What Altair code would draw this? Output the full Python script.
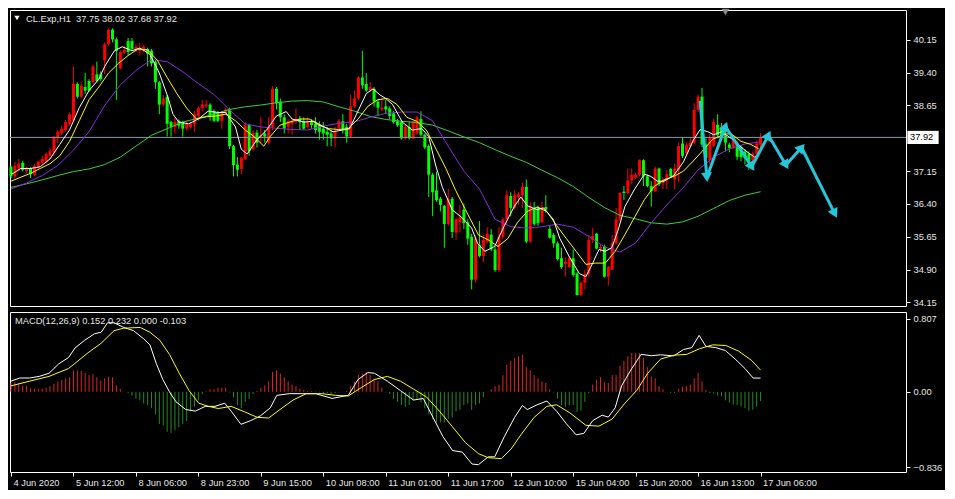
import math
import altair as alt
import pandas as pd

# ---------------- data ----------------
opens = [37.25, 37.03, 37.21, 37.34, 37.15, 37.21, 37.07, 37.25, 37.34, 37.36,
         37.50, 37.58, 37.90, 38.01, 38.09, 38.23, 38.30, 39.14, 38.85, 39.07,
         39.21, 39.18, 39.36, 39.36, 39.68, 40.05, 40.38, 40.16, 39.50, 39.85,
         40.12, 40.12, 39.90, 39.90, 39.90, 39.94, 39.90, 39.65, 39.18, 38.67,
         38.85, 38.27, 38.16, 38.30, 38.27, 38.12, 38.16, 38.23, 38.41, 38.59,
         38.63, 38.67, 38.52, 38.48, 38.30, 38.48, 38.56, 37.72, 37.30, 37.20,
         37.43, 38.20, 37.65, 38.03, 37.93, 38.01, 37.80, 38.16, 39.03, 38.74,
         38.38, 38.16, 38.23, 38.27, 38.34, 38.29, 38.16, 38.27, 38.23, 38.20,
         38.12, 38.05, 38.01, 37.90, 38.12, 38.29, 38.16, 37.94, 38.63, 38.81,
         39.29, 39.14, 38.99, 39.03, 38.74, 38.56, 38.63, 38.58, 38.47, 38.29,
         38.27, 37.90, 38.16, 37.90, 38.01, 38.34, 37.98, 37.72, 37.07, 36.71,
         36.52, 36.36, 35.94, 36.52, 35.75, 35.98, 36.27, 35.98, 35.65, 34.67,
         35.47, 35.21, 35.54, 35.70, 35.36, 34.89, 35.65, 36.05, 36.58, 36.31,
         36.56, 36.60, 36.79, 35.54, 36.31, 36.33, 35.98, 36.33, 35.83, 35.69,
         35.50, 35.16, 35.03, 34.96, 35.16, 34.81, 34.32, 34.60, 34.81, 35.58,
         35.72, 35.38, 35.43, 34.74, 34.90, 35.50, 36.05, 36.68, 36.65, 36.94,
         37.00, 37.07, 37.40, 37.03, 36.81, 36.69, 37.21, 36.87, 36.94, 37.20,
         36.96, 37.18, 37.78, 37.56, 37.72, 37.80, 38.55, 38.85, 37.76, 37.40,
         37.73, 38.21, 38.15, 37.97, 37.76, 37.69, 37.79, 37.70, 37.60, 37.55,
         37.40, 37.55, 37.75]
highs = [37.28, 37.36, 37.43, 37.39, 37.25, 37.24, 37.32, 37.39, 37.50, 37.58,
         37.69, 37.94, 38.09, 38.19, 38.32, 38.49, 39.54, 39.18, 39.18, 39.39,
         39.25, 39.58, 39.65, 39.43, 40.09, 40.41, 40.41, 40.20, 39.90, 40.01,
         40.19, 40.19, 40.05, 40.08, 40.03, 39.97, 39.94, 39.68, 39.21, 38.89,
         38.89, 38.30, 38.38, 38.33, 38.30, 38.30, 38.27, 38.52, 38.63, 38.78,
         38.78, 38.70, 38.56, 38.52, 38.52, 38.59, 38.60, 37.75, 37.47, 37.48,
         38.27, 38.23, 38.08, 38.09, 38.38, 38.09, 38.38, 39.09, 39.07, 38.81,
         38.45, 38.34, 38.34, 38.58, 38.41, 38.38, 38.38, 38.34, 38.38, 38.29,
         38.27, 38.16, 38.09, 38.16, 38.34, 38.45, 38.23, 38.89, 38.99, 39.32,
         39.90, 39.39, 39.18, 39.07, 38.78, 38.81, 38.78, 38.63, 38.52, 38.34,
         38.30, 38.20, 38.27, 38.30, 38.41, 38.52, 38.01, 37.76, 37.11, 37.14,
         36.56, 36.38, 36.74, 36.56, 36.09, 36.38, 36.41, 36.05, 35.72, 35.69,
         36.01, 35.69, 35.87, 35.83, 35.43, 35.87, 36.09, 36.71, 36.67, 36.71,
         36.67, 36.89, 36.96, 36.45, 36.45, 36.36, 36.45, 36.60, 35.90, 35.74,
         35.54, 35.40, 35.18, 35.21, 35.36, 34.85, 34.63, 34.89, 35.69, 35.85,
         35.74, 35.47, 35.47, 34.99, 35.69, 36.31, 36.67, 36.81, 37.21, 37.21,
         37.11, 37.42, 37.42, 37.07, 36.92, 37.25, 37.23, 37.00, 37.18, 37.23,
         37.32, 37.80, 37.92, 37.80, 37.90, 38.70, 38.90, 39.05, 37.90, 38.00,
         38.35, 38.45, 38.25, 38.10, 37.80, 37.95, 37.83, 37.74, 37.65, 37.60,
         37.60, 37.85, 38.02]
lows = [36.99, 36.99, 37.14, 37.14, 37.10, 36.99, 37.03, 37.21, 37.30, 37.32,
        37.43, 37.50, 37.79, 37.98, 38.05, 38.19, 38.30, 38.81, 38.81, 38.92,
        38.96, 39.14, 39.18, 39.21, 39.36, 40.02, 40.09, 38.78, 39.47, 39.83,
        39.79, 39.90, 39.87, 39.79, 39.86, 39.54, 39.54, 39.03, 38.45, 38.63,
        37.94, 37.94, 38.01, 38.12, 37.94, 38.08, 38.12, 38.05, 38.30, 38.52,
        38.60, 38.30, 38.27, 38.27, 38.12, 38.45, 37.65, 37.03, 37.03, 37.08,
        37.40, 37.50, 37.60, 37.69, 37.80, 37.80, 37.76, 38.09, 38.56, 38.27,
        38.01, 38.01, 37.98, 38.23, 38.09, 38.09, 38.12, 38.12, 38.01, 37.87,
        37.87, 37.72, 37.72, 37.69, 38.09, 38.01, 37.80, 37.92, 38.59, 38.78,
        39.03, 38.96, 38.96, 38.63, 38.41, 38.52, 38.45, 38.34, 38.23, 38.16,
        37.87, 37.87, 37.87, 37.88, 37.98, 37.94, 37.65, 36.56, 36.12, 36.45,
        36.23, 35.40, 35.90, 35.62, 35.58, 35.76, 35.83, 35.47, 34.45, 34.60,
        35.18, 35.07, 35.50, 35.32, 34.85, 34.85, 35.61, 35.94, 36.12, 36.27,
        36.38, 36.31, 35.51, 35.51, 35.90, 35.90, 35.96, 36.20, 35.61, 35.40,
        35.11, 34.92, 34.74, 34.94, 34.74, 34.31, 34.30, 34.45, 34.74, 35.51,
        35.36, 35.30, 34.72, 34.54, 34.89, 35.47, 36.01, 36.49, 36.63, 36.85,
        36.96, 37.03, 36.81, 36.78, 36.34, 36.67, 36.81, 36.74, 36.74, 36.99,
        36.74, 36.90, 37.45, 37.50, 37.68, 37.76, 38.50, 37.70, 37.20, 37.30,
        37.70, 37.90, 37.85, 37.60, 37.58, 37.65, 37.40, 37.38, 37.30, 37.18,
        37.30, 37.45, 37.68]
closes = [37.03, 37.27, 37.32, 37.18, 37.23, 37.08, 37.27, 37.37, 37.43, 37.54,
          37.61, 37.94, 38.05, 38.12, 38.27, 38.45, 39.14, 38.85, 39.10, 38.99,
          38.99, 39.54, 39.21, 39.25, 40.05, 40.38, 40.16, 39.90, 39.87, 39.92,
          39.87, 39.94, 39.99, 39.97, 39.99, 39.83, 39.61, 39.18, 38.67, 38.81,
          38.23, 38.16, 38.27, 38.19, 38.12, 38.23, 38.23, 38.45, 38.59, 38.67,
          38.67, 38.41, 38.30, 38.30, 38.48, 38.56, 37.72, 37.29, 37.18, 37.45,
          38.20, 37.61, 38.03, 37.80, 37.97, 37.94, 38.16, 39.03, 38.70, 38.38,
          38.12, 38.29, 38.30, 38.34, 38.27, 38.12, 38.27, 38.20, 38.09, 38.05,
          38.01, 37.98, 37.90, 38.05, 38.30, 38.09, 37.94, 38.63, 38.81, 39.29,
          39.11, 38.99, 39.07, 38.74, 38.60, 38.60, 38.56, 38.41, 38.27, 38.20,
          37.90, 38.17, 37.90, 38.29, 38.38, 37.98, 37.69, 37.07, 36.67, 36.49,
          36.38, 35.94, 36.52, 35.76, 36.05, 36.09, 35.96, 35.61, 34.67, 35.61,
          35.21, 35.58, 35.72, 35.36, 34.89, 35.65, 36.05, 36.60, 36.31, 36.60,
          36.62, 36.79, 35.54, 36.36, 35.94, 35.96, 36.33, 36.27, 35.63, 35.50,
          35.14, 34.96, 35.08, 35.16, 34.78, 34.32, 34.60, 34.81, 35.58, 35.67,
          35.38, 35.42, 34.74, 34.96, 35.50, 36.05, 36.65, 36.65, 36.94, 37.07,
          37.07, 37.40, 37.03, 36.81, 36.69, 37.21, 36.85, 36.96, 37.08, 37.03,
          37.21, 37.72, 37.50, 37.74, 37.80, 38.55, 38.85, 37.76, 37.45, 37.92,
          38.27, 37.97, 37.95, 37.80, 37.68, 37.87, 37.48, 37.47, 37.45, 37.38,
          37.55, 37.78, 37.92]

# moving averages (bar index, value)
white_i = [0, 2.5, 5, 7.5, 10, 12.5, 15, 17.5, 20, 22.5, 24, 26.5, 28.5, 31, 33, 35.5, 38, 40,
           41.5, 43, 45.5, 48, 50.5, 53, 55, 57.5, 59, 60.5, 63, 65.5, 68, 70.5, 72, 75, 77.5,
           80, 82.5, 85, 86.75, 88.5, 91, 92.75, 94.5, 96, 97.75, 100.25, 102.75, 105.25, 107,
           108.75, 110.5, 113, 115.5, 118, 119.5, 121.4, 123.9, 126.4, 128.9, 130.6, 132.25,
           134.75, 136.4, 138.9, 140.6, 143.1, 145.6, 147.25, 148.9, 150.6, 152.25, 153.9, 155.6,
           157.25, 159.75, 162.25, 163.9, 165.6, 167.25, 169.75, 172.25, 174.75, 176.5, 178.5,
           180, 182, 184.75, 187, 189, 190.5, 192]
white_v = [37.07, 37.21, 37.21, 37.25, 37.43, 37.76, 38.09, 38.60, 38.99, 39.25, 39.54, 39.90,
           39.99, 39.90, 39.96, 39.83, 39.39, 38.89, 38.45, 38.27, 38.23, 38.34, 38.52, 38.49,
           38.49, 38.16, 37.65, 37.54, 37.87, 38.09, 38.41, 38.51, 38.34, 38.27, 38.29, 38.17,
           38.05, 38.09, 38.12, 38.45, 38.92, 39.03, 38.89, 38.81, 38.67, 38.27, 38.09, 38.12,
           37.94, 37.29, 36.78, 36.27, 36.09, 35.85, 35.50, 35.32, 35.43, 35.91, 36.34, 36.56,
           36.36, 36.27, 36.31, 36.05, 35.61, 35.18, 34.81, 34.74, 35.03, 35.36, 35.32, 35.40,
           35.83, 36.34, 36.74, 37.08, 37.03, 36.92, 36.92, 37.05, 37.36, 37.85, 38.10, 38.05,
           37.98, 38.05, 37.88, 37.70, 37.56, 37.47, 37.60]
yellow_i = [0, 5, 7.5, 10, 12.5, 15, 17.5, 20, 22.5, 25, 27.5, 30, 32.5, 35, 37.5, 40, 42.5, 45,
            47.5, 50, 52.5, 55, 57.5, 60, 62.25, 64.75, 66.4, 68.9, 71.4, 73.9, 76.4, 78.9, 81.4,
            83.9, 86.4, 88.9, 91.4, 93.9, 96.4, 98.9, 101.4, 103.9, 106.4, 108.9, 111.4, 113.9,
            116.4, 119.75, 122.25, 124.75, 127.25, 129.75, 132.25, 134.75, 137.25, 139.75, 142.25,
            144.75, 147.25, 149.75, 152.25, 154.75, 157.25, 159.75, 162.25, 164.75, 167.25,
            169.75, 172.25, 174.75, 177, 179.75, 183, 184.5, 187, 189.5, 191.5]
yellow_v = [36.92, 37.10, 37.21, 37.32, 37.50, 37.83, 38.30, 38.78, 39.07, 39.39, 39.61, 39.79,
            39.94, 39.92, 39.68, 39.29, 38.92, 38.59, 38.34, 38.39, 38.41, 38.45, 38.30, 38.09,
            37.94, 37.72, 37.94, 38.20, 38.27, 38.34, 38.34, 38.20, 38.12, 38.10, 38.12, 38.34,
            38.63, 38.78, 38.81, 38.67, 38.38, 38.29, 38.09, 37.65, 37.21, 36.71, 36.27, 35.69,
            35.58, 35.43, 35.61, 35.98, 36.23, 36.33, 36.23, 35.91, 35.61, 35.32, 35.02, 35.05,
            35.05, 35.32, 35.70, 36.10, 36.50, 36.80, 36.95, 37.03, 37.15, 37.38, 37.60, 37.88,
            38.00, 38.00, 37.83, 37.76, 37.66]
purple_i = list(range(0, 193, 4))
purple_v = [36.74, 36.88, 37.05, 37.28, 37.63, 38.05, 38.65, 39.12, 39.45, 39.70, 39.65, 39.42,
            39.15, 38.90, 38.55, 38.23, 38.16, 38.13, 38.10, 38.09, 38.18, 38.24, 38.28, 38.38,
            38.47, 38.50, 38.50, 38.30, 37.72, 37.15, 36.74, 36.05, 35.88, 35.85, 35.88, 35.94,
            35.87, 35.66, 35.42, 35.30, 35.51, 35.97, 36.38, 36.75, 37.18, 37.47, 37.66, 37.77,
            37.82]
green_i = list(range(0, 193, 4))
green_v = [36.78, 36.86, 36.95, 37.05, 37.14, 37.20, 37.30, 37.47, 37.72, 37.97, 38.12, 38.27,
           38.36, 38.45, 38.56, 38.62, 38.66, 38.71, 38.75, 38.76, 38.73, 38.62, 38.52, 38.40,
           38.33, 38.29, 38.26, 38.20, 38.07, 37.93, 37.80, 37.64, 37.49, 37.35, 37.17, 37.00,
           36.80, 36.55, 36.32, 36.14, 36.06, 35.97, 35.94, 35.99, 36.12, 36.30, 36.48, 36.60,
           36.68]

# MACD main line, signal line and histogram
macd_i = [0, 2.25, 4.75, 7.25, 9.75, 12.25, 14.75, 16.4, 18.9, 21.4, 23.1, 24.75, 26.4, 28.9,
          31.4, 33.9, 35.6, 37.25, 38.9, 40.6, 42.25, 44.75, 47.25, 49.75, 52.25, 54.75, 56.4,
          58.9, 61.4, 63.9, 66.4, 68.1, 71.4, 74.75, 78.1, 82.25, 86.4, 88.9, 91.4, 93.1, 96.4,
          99.75, 103.1, 105.6, 108.1, 110.6, 113.1, 115.6, 118.1, 119.75, 122.25, 123.9, 126.4,
          129, 131, 132.25, 134.75, 137.25, 139.75, 142.25, 144.75, 146.75, 149, 151.4, 153,
          154.75, 156.4, 159, 161.4, 164, 166.4, 169.75, 172.25, 174.4, 176.25, 178, 180.5, 183,
          185.5, 188, 190.1, 192]
macd_v = [0.118, 0.153, 0.153, 0.171, 0.206, 0.310, 0.380, 0.485, 0.572, 0.643, 0.660, 0.765,
          0.765, 0.713, 0.677, 0.590, 0.520, 0.310, 0.136, 0.000, -0.109, -0.196, -0.214, -0.161,
          -0.161, -0.126, -0.214, -0.360, -0.319, -0.266, -0.178, -0.039, -0.020, -0.021, -0.021,
          -0.073, -0.039, 0.136, 0.213, 0.206, 0.118, 0.014, -0.091, -0.074, -0.283, -0.493,
          -0.650, -0.668, -0.800, -0.807, -0.720, -0.720, -0.493, -0.283, -0.151, -0.196,
          -0.144, -0.102, -0.214, -0.353, -0.476, -0.460, -0.319, -0.259, -0.280, -0.178, 0.066,
          0.258, 0.415, 0.400, 0.410, 0.398, 0.468, 0.490, 0.625, 0.503, 0.490, 0.457, 0.363,
          0.258, 0.153, 0.152]
signal_i = [0, 4.75, 9.75, 14.75, 19.75, 23.1, 26.4, 28.9, 33.1, 35.6, 38.1, 40.6, 43.1, 45.6,
            48.1, 50.6, 53.1, 56.4, 59.75, 63.1, 66, 68.9, 72.25, 75.6, 79.75, 83.1, 86.4, 89.75,
            93.1, 96.4, 99.75, 103.1, 106.4, 109.75, 113.1, 116.4, 119.75, 122.25, 125.6, 128.1,
            130.6, 134, 137.25, 139.75, 143.1, 147.25, 150.6, 154, 157.25, 160.25, 163.1, 166.4,
            169.75, 173.1, 176.4, 179.75, 183.1, 186.4, 189.75, 192]
signal_v = [0.066, 0.118, 0.171, 0.258, 0.433, 0.538, 0.677, 0.705, 0.713, 0.660, 0.572, 0.415,
            0.206, 0.014, -0.126, -0.161, -0.185, -0.161, -0.220, -0.283, -0.290, -0.196, -0.091,
            -0.021, -0.021, -0.039, -0.046, 0.048, 0.136, 0.171, 0.118, 0.031, -0.056, -0.214,
            -0.388, -0.563, -0.685, -0.730, -0.740, -0.633, -0.476, -0.283, -0.161, -0.144,
            -0.231, -0.371, -0.380, -0.301, -0.126, 0.014, 0.206, 0.363, 0.405, 0.415, 0.478,
            0.520, 0.513, 0.450, 0.346, 0.240]
hist = [0.098, 0.105, 0.091, 0.070, 0.063, 0.035, 0.035, 0.035, 0.035, 0.045,
        0.063, 0.091, 0.115, 0.133, 0.150, 0.161, 0.237, 0.237, 0.230, 0.209,
        0.185, 0.195, 0.161, 0.126, 0.150, 0.168, 0.161, 0.070, 0.035, 0.003,
        -0.014, -0.042, -0.077, -0.094, -0.129, -0.147, -0.181, -0.251, -0.356, -0.373,
        -0.443, -0.454, -0.426, -0.391, -0.356, -0.321, -0.216, -0.164, -0.094, -0.024,
        0.007, 0.028, 0.028, 0.045, 0.045, 0.045, -0.007, -0.059, -0.147, -0.181,
        -0.112, -0.077, -0.024, 0.010, 0.045, 0.070, 0.115, 0.220, 0.237, 0.202,
        0.161, 0.115, 0.080, 0.063, 0.035, 0.021, 0.010, 0.007, 0.003, -0.007,
        -0.014, -0.014, -0.024, -0.014, -0.007, 0.002, 0.010, 0.063, 0.115, 0.185,
        0.202, 0.220, 0.185, 0.150, 0.115, 0.045, -0.007, -0.024, -0.077, -0.112,
        -0.147, -0.164, -0.147, -0.094, -0.077, -0.112, -0.181, -0.251, -0.304, -0.339,
        -0.339, -0.339, -0.304, -0.286, -0.216, -0.199, -0.147, -0.129, -0.199, -0.147,
        -0.129, -0.059, 0.002, 0.028, 0.063, 0.080, 0.185, 0.300, 0.342, 0.377,
        0.394, 0.412, 0.272, 0.237, 0.185, 0.150, 0.115, 0.098, 0.028, -0.007,
        -0.077, -0.147, -0.164, -0.147, -0.147, -0.223, -0.209, -0.112, -0.014, 0.080,
        0.133, 0.161, 0.105, 0.098, 0.185, 0.185, 0.290, 0.342, 0.394, 0.429,
        0.429, 0.429, 0.377, 0.272, 0.168, 0.150, 0.063, 0.028, 0.002, -0.014,
        -0.014, 0.035, 0.056, 0.063, 0.080, 0.150, 0.209, 0.115, 0.021, -0.014,
        -0.021, -0.042, -0.049, -0.094, -0.119, -0.140, -0.147, -0.164, -0.181, -0.209,
        -0.199, -0.164, -0.105]

# drawn zig-zag arrow object (bar index, price)
arrow_i = [176.5, 178.25, 183, 189.75, 194, 198.5, 202.5, 211]
arrow_p = [38.755, 37.01, 38.17, 37.25, 37.97, 37.29, 37.69, 36.18]

time_ticks = list(range(0, 193, 16))
time_labels = ["4 Jun 2020", "5 Jun 12:00", "8 Jun 06:00", "8 Jun 23:00", "9 Jun 15:00",
               "10 Jun 08:00", "11 Jun 01:00", "11 Jun 17:00", "12 Jun 10:00", "15 Jun 04:00",
               "15 Jun 20:00", "16 Jun 13:00", "17 Jun 06:00"]
price_ticks = [34.15, 34.90, 35.65, 36.40, 37.15, 38.65, 39.40, 40.15]
macd_ticks = [0.807, 0.0, -0.836]
last_price = 37.92
header_text = "CL.Exp,H1\u00a0 37.75 38.02 37.68 37.92"
macd_text = "MACD(12,26,9) 0.152 0.232 0.000 -0.103"

# ---------------- style ----------------
W, H1, H2 = 896, 296, 160
X_DOM = [-0.25, 229.25]
P_DOM = [34.07, 40.83]
M_DOM = [-0.888, 0.884]
FONT = "Liberation Sans"
FS = 9.3
TXT = "#e6e6e6"
UP, DOWN = "#ff0000", "#00ff00"
CYAN = "#26c6da"

xs = alt.Scale(domain=X_DOM, nice=False, zero=False)
ys = alt.Scale(domain=P_DOM, nice=False, zero=False)
ms = alt.Scale(domain=M_DOM, nice=False, zero=False)

yaxis = alt.Axis(orient="right", values=price_ticks, format=".2f", title=None,
                 labelPadding=3, tickSize=4, labelOverlap=False)
label_expr = "[" + ",".join("'%s'" % s for s in time_labels) + "][round(datum.value/16)]"
xaxis = alt.Axis(values=time_ticks, labelExpr=label_expr, labelAlign="left", labelOffset=2,
                 labelPadding=2, tickSize=4, title=None, labelFlush=False, labelOverlap=False)
maxis = alt.Axis(orient="right", values=macd_ticks, title=None, labelPadding=3, tickSize=4,
                 labelOverlap=False,
                 labelExpr="datum.value == 0 ? '0.00' : format(datum.value, '.3f')")

XN = alt.X("i:Q", scale=xs, axis=None)          # main panel: no x axis


def YP(field):
    return alt.Y(field, scale=ys, axis=yaxis)


def XM():
    return alt.X("i:Q", scale=xs, axis=xaxis)


def YM(field):
    return alt.Y(field, scale=ms, axis=maxis)


# ---------------- main panel ----------------
cdf = pd.DataFrame({"i": list(range(len(closes))), "o": opens, "h": highs,
                    "l": lows, "c": closes})
cbase = alt.Chart(cdf).transform_calculate(dir="datum.c >= datum.o ? 'up' : 'down'")
ccolor = alt.Color("dir:N", scale=alt.Scale(domain=["up", "down"], range=[UP, DOWN]),
                   legend=None)
wicks = cbase.mark_rule(strokeWidth=1).encode(x=XN, y=YP("l:Q"), y2="h:Q", color=ccolor)
bodies = cbase.mark_rule(strokeWidth=3).encode(x=XN, y=YP("o:Q"), y2="c:Q", color=ccolor)

one = pd.DataFrame({"p": [last_price]})
price_line = alt.Chart(one).mark_rule(color="#8898aa", strokeWidth=1).encode(y=YP("p:Q"))


def ma(iv, vv, color):
    return alt.Chart(pd.DataFrame({"i": iv, "v": vv})).mark_line(
        color=color, strokeWidth=1).encode(x=XN, y=YP("v:Q"))


ma_green = ma(green_i, green_v, "#3ccf3c")
ma_purple = ma(purple_i, purple_v, "#8a2be2")
ma_yellow = ma(yellow_i, yellow_v, "#ffff00")
ma_white = ma(white_i, white_v, "#ffffff")

# arrows
sx = W / (X_DOM[1] - X_DOM[0])
sy = H1 / (P_DOM[1] - P_DOM[0])
adf = pd.DataFrame({"k": list(range(len(arrow_i))), "i": arrow_i, "p": arrow_p})
heads = []
for k in range(1, len(arrow_i)):
    dx = (arrow_i[k] - arrow_i[k - 1]) * sx
    dy = (arrow_p[k] - arrow_p[k - 1]) * sy
    heads.append({"i": arrow_i[k], "p": arrow_p[k],
                  "ang": math.degrees(math.atan2(dx, dy)) % 360})
hdf_a = pd.DataFrame(heads)
arrow_line = alt.Chart(adf).mark_line(color=CYAN, strokeWidth=3).encode(
    x=XN, y=YP("p:Q"), order="k:Q")
arrow_heads = alt.Chart(hdf_a).mark_point(shape="triangle-up", filled=True, size=120,
                                           color=CYAN, opacity=1).encode(
    x=XN, y=YP("p:Q"), angle=alt.Angle("ang:Q", scale=None))

# texts & decorations
tdf = pd.DataFrame({"t": [header_text]})
header = alt.Chart(tdf).mark_text(align="left", baseline="middle", font=FONT, fontSize=FS,
                                  color=TXT).encode(x=alt.value(16), y=alt.value(9), text="t:N")
tri = alt.Chart(tdf).mark_point(shape="triangle-down", filled=True, size=28, color="#ffffff",
                                opacity=1).encode(x=alt.value(7), y=alt.value(8))
shift_mark = alt.Chart(pd.DataFrame({"i": [183]})).mark_point(
    shape="triangle-down", filled=True, size=60, color="#8a8a8a", opacity=1).encode(
    x=XN, y=alt.value(2))
box = alt.Chart(one).mark_point(shape="M-1,-0.42H1V0.42H-1Z", filled=True, size=980,
                                color="#ffffff", opacity=1).encode(
    x=alt.value(W + 17), y=YP("p:Q"))
box_txt = alt.Chart(one).mark_text(align="left", baseline="middle", font=FONT, fontSize=FS,
                                   color="#000000").encode(
    x=alt.value(W + 4), y=YP("p:Q"), text=alt.Text("p:Q", format=".2f"))

main = alt.layer(wicks, bodies, price_line, ma_green, ma_purple, ma_yellow, ma_white,
                 arrow_line, arrow_heads, header, tri, shift_mark, box, box_txt).properties(
    width=W, height=H1)

# ---------------- MACD panel ----------------
hdf = pd.DataFrame({"i": list(range(len(hist))), "h": hist})
histo = alt.Chart(hdf).mark_rule(strokeWidth=1).encode(
    x=XM(), y=YM("h:Q"), y2=alt.datum(0),
    color=alt.condition("datum.h > 0", alt.value("#e02424"), alt.value("#228b22")))
macd_line = alt.Chart(pd.DataFrame({"i": macd_i, "v": macd_v})).mark_line(
    color="#ffffff", strokeWidth=1).encode(x=XM(), y=YM("v:Q"))
signal_line = alt.Chart(pd.DataFrame({"i": signal_i, "v": signal_v})).mark_line(
    color="#ffff00", strokeWidth=1).encode(x=XM(), y=YM("v:Q"))
mdf = pd.DataFrame({"t": [macd_text]})
macd_title = alt.Chart(mdf).mark_text(align="left", baseline="middle", font=FONT, fontSize=FS,
                                      color=TXT).encode(x=alt.value(5), y=alt.value(9),
                                                        text="t:N")
macd = alt.layer(histo, macd_line, signal_line, macd_title).properties(width=W, height=H2)

chart = alt.vconcat(main, macd, spacing=2).resolve_scale(
    x="independent", y="independent").properties(
    padding={"left": 0, "top": 0, "right": 2, "bottom": 2}, background="#000000"
).configure_view(stroke="#ffffff", strokeWidth=1).configure_axis(
    grid=False, domain=False, labelColor=TXT, labelFont=FONT, labelFontSize=FS,
    tickColor="#ffffff", tickWidth=1)

chart.save("out.html", embed_options={"renderer": "svg", "actions": False})
